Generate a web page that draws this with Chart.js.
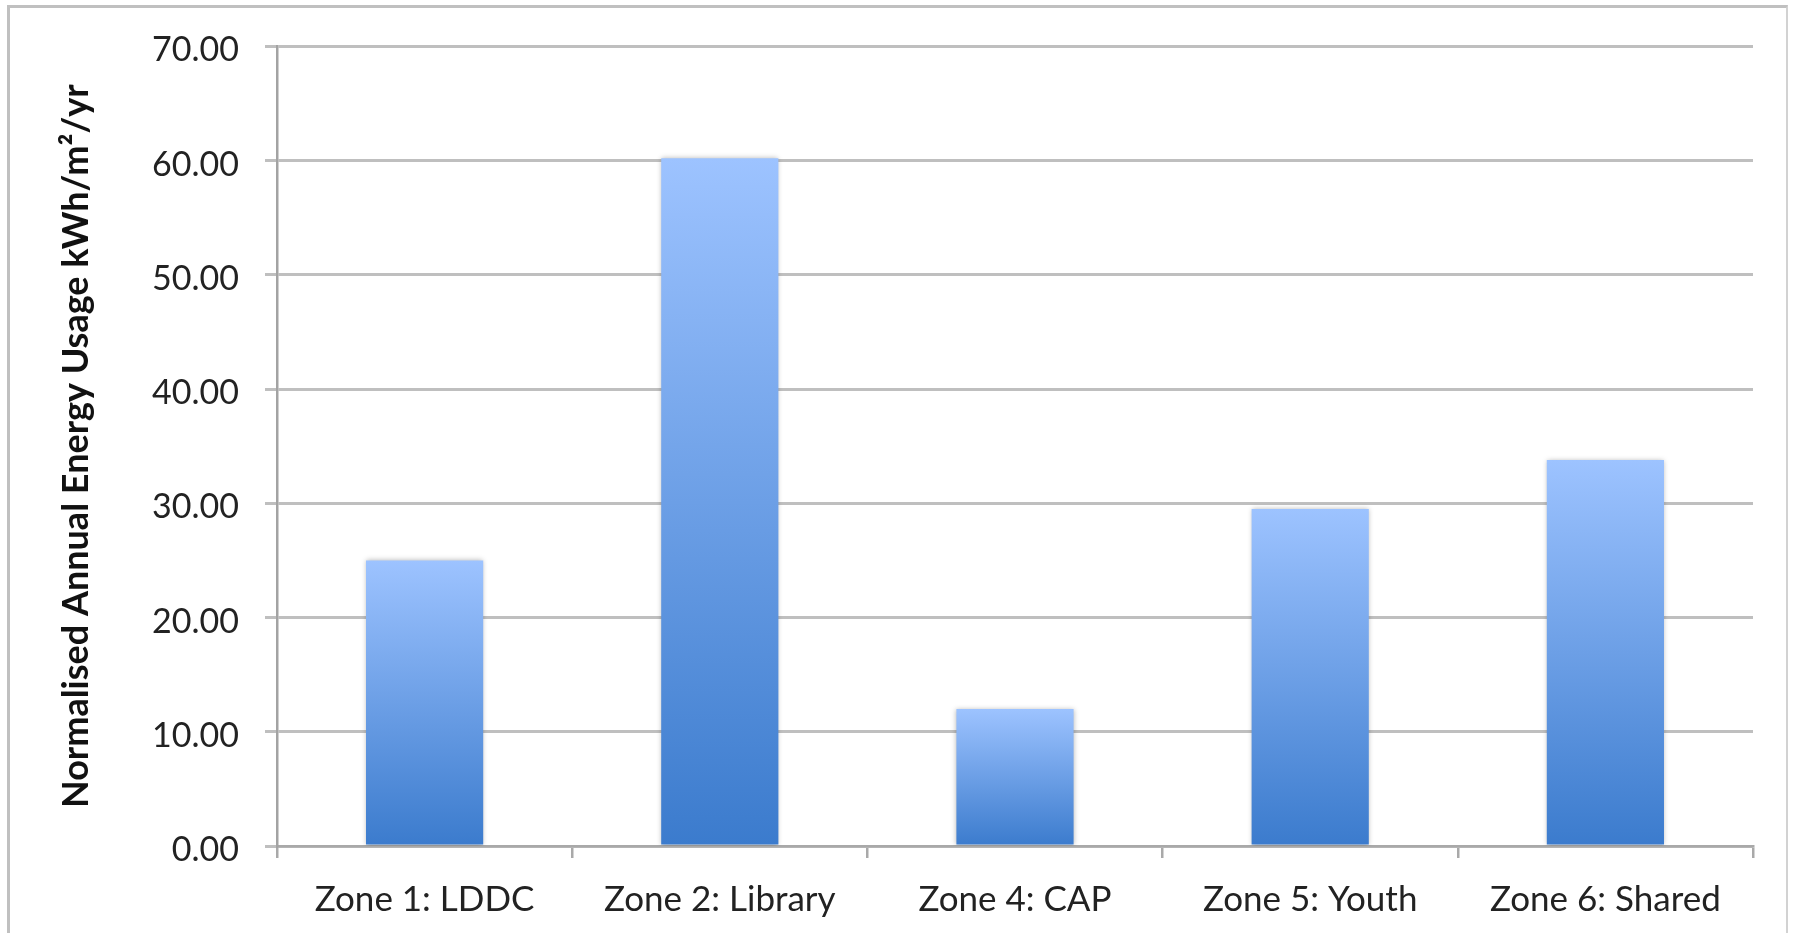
<!DOCTYPE html>
<html>
<head>
<meta charset="utf-8">
<script src="https://cdn.jsdelivr.net/npm/chart.js@4/dist/chart.umd.min.js"></script>
<style>
  html, body { margin: 0; padding: 0; background: #fff; overflow: hidden; }
  #frame {
    position: absolute; left: 7px; top: 5px; width: 1781px; height: 1000px;
    box-sizing: border-box;
    border-top: 3px solid #c0c0c0; border-left: 3px solid #c0c0c0; border-right: 2px solid #d2d2d2;
  }
  canvas { position: absolute; left: 0; top: 0; }
</style>
</head>
<body>
<div id="frame"></div>
<canvas id="c" width="1795" height="933"></canvas>
<script>
// Normalised annual energy usage per zone
const categories = ['Zone 1: LDDC', 'Zone 2: Library', 'Zone 4: CAP', 'Zone 5: Youth', 'Zone 6: Shared'];
const usage = [25.0, 60.2, 12.0, 29.5, 33.8];
const yMin = 0;
const yMax = 70;
const yStep = 10;
const yTitle = 'Normalised Annual Energy Usage kWh/m\u00B2/yr';

const FONT = 'Lato';

// soft drop shadow around the bars
const barShadow = {
  id: 'barShadow',
  beforeDatasetsDraw(chart) {
    const c = chart.ctx;
    c.save();
    c.shadowColor = 'rgba(0,0,0,0.28)';
    c.shadowBlur = 5;
  },
  afterDatasetsDraw(chart) {
    chart.ctx.restore();
  }
};

// vertical gradient per bar: light at the top, deep blue at the base
function barFill(ctx) {
  const chart = ctx.chart;
  const y = chart.scales.y;
  if (!y || !chart.chartArea) return '#6a9fe6';
  const top = y.getPixelForValue(ctx.raw);
  const base = y.getPixelForValue(0);
  const g = chart.ctx.createLinearGradient(0, top, 0, base);
  g.addColorStop(0, '#9dc3ff');
  g.addColorStop(1, '#3b7bcd');
  return g;
}

new Chart(document.getElementById('c'), {
  type: 'bar',
  data: {
    labels: categories,
    datasets: [{
      data: usage,
      backgroundColor: barFill,
      borderWidth: 0,
      categoryPercentage: 1,
      barPercentage: 0.397
    }]
  },
  options: {
    responsive: false,
    animation: false,
    devicePixelRatio: 1,
    layout: { padding: { left: 0, top: 42, right: 42, bottom: 0 } },
    plugins: { legend: { display: false }, tooltip: { enabled: false } },
    scales: {
      x: {
        grid: { offset: true, drawOnChartArea: false, drawTicks: true, tickLength: 12, color: '#a9a9a9', lineWidth: 2.5 },
        border: { display: true, color: '#a9a9a9', width: 2.5 },
        ticks: { color: '#222', font: { family: FONT, size: 35 }, padding: 21, maxRotation: 0, autoSkip: false },
        afterFit(s) { s.height = 87; }
      },
      y: {
        min: yMin,
        max: yMax,
        ticks: { stepSize: yStep, callback: v => v.toFixed(2), color: '#222', font: { family: FONT, size: 34 }, padding: 26, labelOffset: 4 },
        grid: { color: '#bfbfbf', lineWidth: 3, tickLength: 12 },
        border: { display: true, color: '#a3a3a3', width: 2.5 },
        title: { display: true, text: yTitle, color: '#111', font: { family: FONT, size: 36, weight: 'bold' }, padding: { top: 55, bottom: 0 } },
        afterFit(s) { s.width = 277; }
      }
    }
  },
  plugins: [barShadow]
});
</script>
</body>
</html>
